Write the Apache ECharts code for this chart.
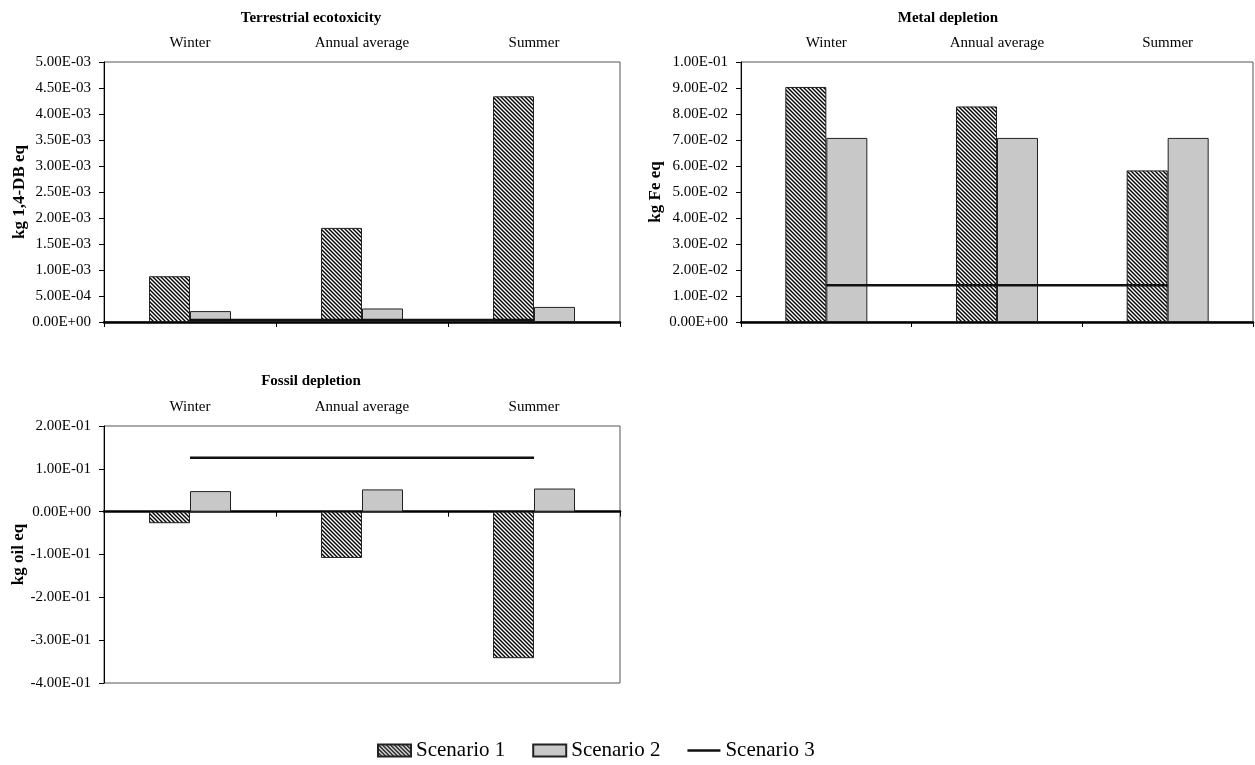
<!DOCTYPE html>
<html>
<head>
<meta charset="utf-8">
<title>Impact categories by season</title>
<script src="https://cdn.jsdelivr.net/npm/echarts@6/dist/echarts.min.js"></script>
<style>
  html, body { margin: 0; padding: 0; background: #fff; }
  #chart { width: 1255px; height: 765px; }
</style>
</head>
<body>
<div id="chart"></div>
<script>
// Seasons shown on every panel
const categories = ['Winter', 'Annual average', 'Summer'];
const scenarioNames = ['Scenario 1', 'Scenario 2', 'Scenario 3'];

// Terrestrial ecotoxicity (kg 1,4-DB eq)
const terrS1 = [8.8e-4, 1.81e-3, 4.34e-3];
const terrS2 = [2.1e-4, 2.6e-4, 2.9e-4];
const terrS3 = [4e-5, 4e-5, 4e-5];

// Metal depletion (kg Fe eq)
const metalS1 = [9.04e-2, 8.29e-2, 5.83e-2];
const metalS2 = [7.08e-2, 7.08e-2, 7.08e-2];
const metalS3 = [1.41e-2, 1.41e-2, 1.41e-2];

// Fossil depletion (kg oil eq)
const fossilS1 = [-2.7e-2, -1.08e-1, -3.42e-1];
const fossilS2 = [4.8e-2, 5.2e-2, 5.4e-2];
const fossilS3 = [1.26e-1, 1.26e-1, 1.26e-1];

const FONT = "'Liberation Serif', 'DejaVu Serif', serif";

// Diagonal "\" hatch used for Scenario 1
function makeHatch() {
  const c = document.createElement('canvas');
  c.width = 8; c.height = 8;
  const ctx = c.getContext('2d');
  ctx.fillStyle = '#fff';
  ctx.fillRect(0, 0, 8, 8);
  ctx.strokeStyle = '#000';
  ctx.lineWidth = 1.4;
  for (let k = -8; k <= 16; k += 4) {
    ctx.beginPath();
    ctx.moveTo(k - 2, -2);
    ctx.lineTo(k + 10, 10);
    ctx.stroke();
  }
  return { image: c, repeat: 'repeat' };
}
const hatch = makeHatch();

// Excel-like scientific labels: 5.00E-03
function sci(v) {
  if (Math.abs(v) < 1e-12) return '0.00E+00';
  const parts = Number(v).toExponential(2).split('e');
  const exp = parseInt(parts[1], 10);
  return parts[0] + 'E' + (exp < 0 ? '-' : '+') + String(Math.abs(exp)).padStart(2, '0');
}

function topAxis(gridIndex) {
  return {
    type: 'category', gridIndex: gridIndex, position: 'top', data: categories,
    axisLine: { show: false, onZero: false },
    axisTick: { show: false },
    axisLabel: { margin: 11, fontFamily: FONT, fontSize: 15, color: '#000' }
  };
}
function bottomAxis(gridIndex) {
  return {
    type: 'category', gridIndex: gridIndex, position: 'bottom', data: categories,
    axisLine: { show: true, onZero: true, lineStyle: { color: '#000', width: 2.5 } },
    axisTick: { show: true, inside: false, length: 5, lineStyle: { color: '#000', width: 1 } },
    axisLabel: { show: false }
  };
}
function valueAxis(gridIndex, min, max, interval, name, gap) {
  return {
    type: 'value', gridIndex: gridIndex, min: min, max: max, interval: interval,
    name: name, nameLocation: 'middle', nameGap: gap,
    nameTextStyle: { fontFamily: FONT, fontWeight: 'bold', fontSize: 17, color: '#000' },
    axisLine: { show: true, lineStyle: { color: '#000', width: 1 } },
    axisTick: { show: true, inside: false, length: 5, lineStyle: { color: '#000', width: 1 } },
    axisLabel: { formatter: sci, fontFamily: FONT, fontSize: 15, color: '#000', margin: 13 },
    splitLine: { show: false }
  };
}

function barSeries(name, xIdx, yIdx, data, fill) {
  return {
    name: name, type: 'bar', xAxisIndex: xIdx, yAxisIndex: yIdx, data: data,
    barWidth: 41, barGap: '0%',
    itemStyle: { color: fill, borderColor: '#222', borderWidth: 1 },
    emphasis: { disabled: true }
  };
}
function lineSeries(name, xIdx, yIdx, data) {
  return {
    name: name, type: 'line', xAxisIndex: xIdx, yAxisIndex: yIdx, data: data,
    symbol: 'none', showSymbol: false, z: 5,
    lineStyle: { color: '#111', width: 2.5 },
    itemStyle: { color: '#111' },
    emphasis: { disabled: true }
  };
}

const panelTitles = [
  { text: 'Terrestrial ecotoxicity', x: 311, y: 6 },
  { text: 'Metal depletion', x: 948, y: 6 },
  { text: 'Fossil depletion', x: 311, y: 369 }
];

const option = {
  backgroundColor: '#fff',
  animation: false,
  title: panelTitles.map(t => ({
    text: t.text, left: t.x - 5, top: t.y, textAlign: 'center',
    textStyle: { fontFamily: FONT, fontSize: 15, fontWeight: 'bold', color: '#000' }
  })),
  legend: {
    left: 372, top: 735,
    itemWidth: 33, itemHeight: 12, itemGap: 27,
    textStyle: { fontFamily: FONT, fontSize: 21, color: '#000' },
    data: [
      { name: scenarioNames[0], icon: 'rect' },
      { name: scenarioNames[1], icon: 'rect' },
      { name: scenarioNames[2], icon: 'path://M0,0 L33,0 L33,2.5 L0,2.5 Z' }
    ]
  },
  grid: [
    { left: 104, top: 62, width: 516, height: 260, show: true, borderColor: '#555', borderWidth: 1, backgroundColor: 'transparent' },
    { left: 741, top: 62, width: 512, height: 260, show: true, borderColor: '#555', borderWidth: 1, backgroundColor: 'transparent' },
    { left: 104, top: 426, width: 516, height: 257, show: true, borderColor: '#555', borderWidth: 1, backgroundColor: 'transparent' }
  ],
  xAxis: [topAxis(0), bottomAxis(0), topAxis(1), bottomAxis(1), topAxis(2), bottomAxis(2)],
  yAxis: [
    valueAxis(0, 0, 0.005, 0.0005, 'kg 1,4-DB eq', 75),
    valueAxis(1, 0, 0.1, 0.01, 'kg Fe eq', 77),
    valueAxis(2, -0.4, 0.2, 0.1, 'kg oil eq', 75)
  ],
  series: [
    barSeries(scenarioNames[0], 1, 0, terrS1, hatch),
    barSeries(scenarioNames[1], 1, 0, terrS2, '#c8c8c8'),
    lineSeries(scenarioNames[2], 1, 0, terrS3),
    barSeries(scenarioNames[0], 3, 1, metalS1, hatch),
    barSeries(scenarioNames[1], 3, 1, metalS2, '#c8c8c8'),
    lineSeries(scenarioNames[2], 3, 1, metalS3),
    barSeries(scenarioNames[0], 5, 2, fossilS1, hatch),
    barSeries(scenarioNames[1], 5, 2, fossilS2, '#c8c8c8'),
    lineSeries(scenarioNames[2], 5, 2, fossilS3)
  ]
};

const chart = echarts.init(document.getElementById('chart'), null, { renderer: 'canvas' });
chart.setOption(option);
</script>
</body>
</html>
